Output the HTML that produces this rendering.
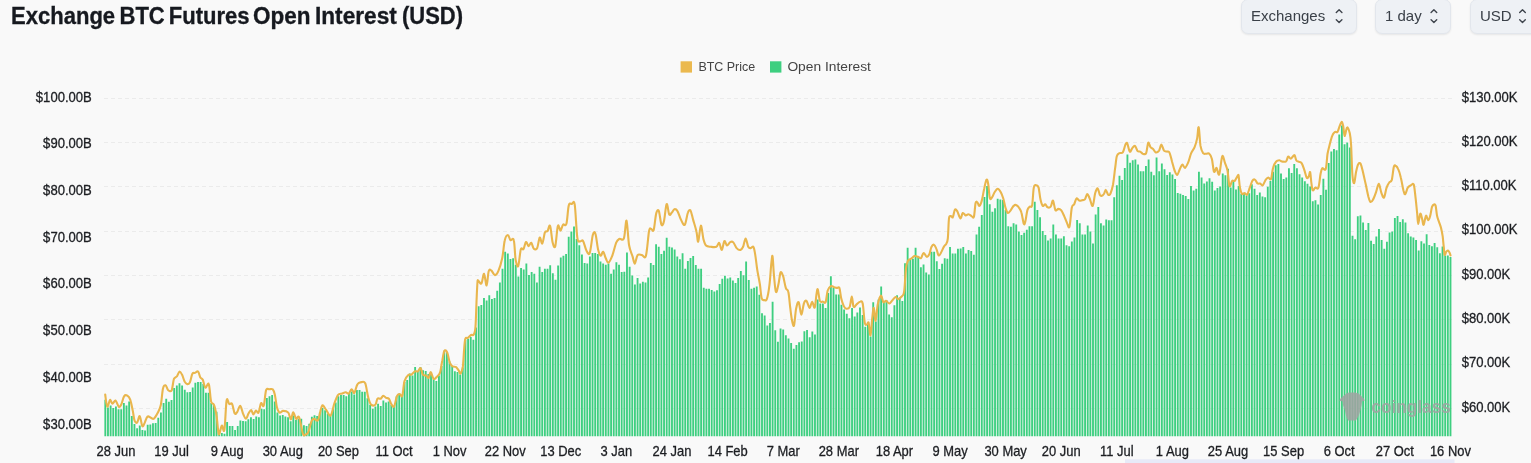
<!DOCTYPE html>
<html><head><meta charset="utf-8"><title>Exchange BTC Futures Open Interest (USD)</title>
<style>
html,body{margin:0;padding:0;background:#f9f9f9;overflow:hidden;}
body{width:1531px;height:463px;overflow:hidden;position:relative;font-family:"Liberation Sans",sans-serif;}
.btn{position:absolute;top:-1.5px;height:35px;background:#eef1f5;border:1px solid #e2e6ec;border-radius:7px;box-shadow:0 1px 2px rgba(0,0,0,.08);font-size:15px;color:#3a4048;line-height:31.6px;padding-left:9px;box-sizing:border-box;white-space:nowrap;}
body>*{will-change:transform}
svg text{font-family:"Liberation Sans",sans-serif;}
</style></head><body>
<div style="position:absolute;left:0;top:0;width:1531px;height:463px;overflow:hidden"><div class="btn" style="left:1241px;width:116px;">Exchanges</div>
<div class="btn" style="left:1375px;width:76px;">1 day</div>
<div class="btn" style="left:1470px;width:76px;">USD</div></div>
<svg width="1531" height="463" viewBox="0 0 1531 463" style="position:absolute;left:0;top:0">
<rect x="1125" y="459.3" width="329.5" height="4" fill="#e7eaf8"/>
<g stroke="#ebebeb" stroke-width="1" stroke-dasharray="4 3"><line x1="104" x2="1452" y1="98.5" y2="98.5"/><line x1="104" x2="1452" y1="142.5" y2="142.5"/><line x1="104" x2="1452" y1="186.5" y2="186.5"/><line x1="104" x2="1452" y1="231.5" y2="231.5"/><line x1="104" x2="1452" y1="275.5" y2="275.5"/><line x1="104" x2="1452" y1="319.5" y2="319.5"/><line x1="104" x2="1452" y1="364.5" y2="364.5"/><line x1="104" x2="1452" y1="408.5" y2="408.5"/></g>
<path d="M104.39 436.2V399.7h1.86V436.2zM107.04 436.2V407.5h1.86V436.2zM109.69 436.2V405.4h1.86V436.2zM112.34 436.2V408.0h1.86V436.2zM114.99 436.2V406.6h1.86V436.2zM117.63 436.2V409.2h1.86V436.2zM120.28 436.2V409.2h1.86V436.2zM122.93 436.2V403.1h1.86V436.2zM125.58 436.2V405.4h1.86V436.2zM128.23 436.2V401.4h1.86V436.2zM130.87 436.2V416.1h1.86V436.2zM133.52 436.2V423.9h1.86V436.2zM136.17 436.2V428.2h1.86V436.2zM138.82 436.2V425.6h1.86V436.2zM141.47 436.2V429.9h1.86V436.2zM144.11 436.2V430.4h1.86V436.2zM146.76 436.2V424.7h1.86V436.2zM149.41 436.2V424.4h1.86V436.2zM152.06 436.2V423.3h1.86V436.2zM154.70 436.2V423.0h1.86V436.2zM157.35 436.2V417.8h1.86V436.2zM160.00 436.2V412.6h1.86V436.2zM162.65 436.2V403.1h1.86V436.2zM165.30 436.2V398.8h1.86V436.2zM167.94 436.2V401.8h1.86V436.2zM170.59 436.2V400.0h1.86V436.2zM173.24 436.2V388.1h1.86V436.2zM175.89 436.2V385.5h1.86V436.2zM178.54 436.2V383.3h1.86V436.2zM181.18 436.2V385.5h1.86V436.2zM183.83 436.2V389.8h1.86V436.2zM186.48 436.2V392.3h1.86V436.2zM189.13 436.2V391.9h1.86V436.2zM191.78 436.2V387.6h1.86V436.2zM194.42 436.2V382.8h1.86V436.2zM197.07 436.2V381.9h1.86V436.2zM199.72 436.2V381.9h1.86V436.2zM202.37 436.2V384.1h1.86V436.2zM205.02 436.2V392.8h1.86V436.2zM207.66 436.2V392.8h1.86V436.2zM210.31 436.2V403.1h1.86V436.2zM212.96 436.2V404.9h1.86V436.2zM215.61 436.2V411.8h1.86V436.2zM218.26 436.2V435.1h1.86V436.2zM220.90 436.2V433.0h1.86V436.2zM223.55 436.2V433.7h1.86V436.2zM226.20 436.2V422.1h1.86V436.2zM228.85 436.2V425.9h1.86V436.2zM231.49 436.2V425.9h1.86V436.2zM234.14 436.2V429.9h1.86V436.2zM236.79 436.2V426.1h1.86V436.2zM239.44 436.2V420.4h1.86V436.2zM242.09 436.2V420.9h1.86V436.2zM244.73 436.2V421.3h1.86V436.2zM247.38 436.2V419.2h1.86V436.2zM250.03 436.2V417.3h1.86V436.2zM252.68 436.2V419.0h1.86V436.2zM255.33 436.2V416.6h1.86V436.2zM257.97 436.2V417.3h1.86V436.2zM260.62 436.2V408.8h1.86V436.2zM263.27 436.2V409.2h1.86V436.2zM265.92 436.2V398.0h1.86V436.2zM268.57 436.2V396.2h1.86V436.2zM271.21 436.2V395.0h1.86V436.2zM273.86 436.2V401.4h1.86V436.2zM276.51 436.2V412.6h1.86V436.2zM279.16 436.2V415.6h1.86V436.2zM281.81 436.2V414.9h1.86V436.2zM284.45 436.2V416.6h1.86V436.2zM287.10 436.2V417.3h1.86V436.2zM289.75 436.2V421.3h1.86V436.2zM292.40 436.2V415.6h1.86V436.2zM295.05 436.2V419.9h1.86V436.2zM297.69 436.2V418.8h1.86V436.2zM300.34 436.2V418.8h1.86V436.2zM302.99 436.2V425.3h1.86V436.2zM305.64 436.2V426.0h1.86V436.2zM308.29 436.2V423.8h1.86V436.2zM310.93 436.2V416.7h1.86V436.2zM313.58 436.2V415.2h1.86V436.2zM316.23 436.2V416.0h1.86V436.2zM318.88 436.2V412.4h1.86V436.2zM321.52 436.2V408.0h1.86V436.2zM324.17 436.2V410.2h1.86V436.2zM326.82 436.2V413.4h1.86V436.2zM329.47 436.2V415.6h1.86V436.2zM332.12 436.2V408.0h1.86V436.2zM334.76 436.2V402.6h1.86V436.2zM337.41 436.2V396.2h1.86V436.2zM340.06 436.2V395.1h1.86V436.2zM342.71 436.2V395.1h1.86V436.2zM345.36 436.2V396.2h1.86V436.2zM348.00 436.2V392.9h1.86V436.2zM350.65 436.2V391.4h1.86V436.2zM353.30 436.2V394.4h1.86V436.2zM355.95 436.2V390.1h1.86V436.2zM358.60 436.2V390.1h1.86V436.2zM361.24 436.2V391.8h1.86V436.2zM363.89 436.2V391.8h1.86V436.2zM366.54 436.2V398.3h1.86V436.2zM369.19 436.2V404.8h1.86V436.2zM371.84 436.2V408.7h1.86V436.2zM374.48 436.2V406.5h1.86V436.2zM377.13 436.2V403.7h1.86V436.2zM379.78 436.2V405.9h1.86V436.2zM382.43 436.2V400.5h1.86V436.2zM385.08 436.2V402.6h1.86V436.2zM387.72 436.2V401.6h1.86V436.2zM390.37 436.2V404.8h1.86V436.2zM393.02 436.2V405.9h1.86V436.2zM395.67 436.2V396.6h1.86V436.2zM398.31 436.2V393.6h1.86V436.2zM400.96 436.2V395.7h1.86V436.2zM403.61 436.2V382.1h1.86V436.2zM406.26 436.2V380.0h1.86V436.2zM408.91 436.2V373.5h1.86V436.2zM411.55 436.2V375.6h1.86V436.2zM414.20 436.2V367.0h1.86V436.2zM416.85 436.2V371.3h1.86V436.2zM419.50 436.2V367.0h1.86V436.2zM422.15 436.2V370.2h1.86V436.2zM424.79 436.2V370.9h1.86V436.2zM427.44 436.2V374.1h1.86V436.2zM430.09 436.2V372.0h1.86V436.2zM432.74 436.2V378.9h1.86V436.2zM435.39 436.2V381.0h1.86V436.2zM438.03 436.2V375.6h1.86V436.2zM440.68 436.2V365.9h1.86V436.2zM443.33 436.2V350.8h1.86V436.2zM445.98 436.2V351.9h1.86V436.2zM448.63 436.2V361.6h1.86V436.2zM451.27 436.2V365.9h1.86V436.2zM453.92 436.2V371.3h1.86V436.2zM456.57 436.2V372.0h1.86V436.2zM459.22 436.2V374.6h1.86V436.2zM461.87 436.2V367.6h1.86V436.2zM464.51 436.2V339.7h1.86V436.2zM467.16 436.2V338.8h1.86V436.2zM469.81 436.2V337.1h1.86V436.2zM472.46 436.2V339.7h1.86V436.2zM475.11 436.2V327.6h1.86V436.2zM477.75 436.2V306.2h1.86V436.2zM480.40 436.2V304.9h1.86V436.2zM483.05 436.2V297.9h1.86V436.2zM485.70 436.2V300.5h1.86V436.2zM488.34 436.2V295.3h1.86V436.2zM490.99 436.2V299.0h1.86V436.2zM493.64 436.2V297.9h1.86V436.2zM496.29 436.2V290.7h1.86V436.2zM498.94 436.2V282.4h1.86V436.2zM501.58 436.2V268.7h1.86V436.2zM504.23 436.2V251.8h1.86V436.2zM506.88 436.2V253.6h1.86V436.2zM509.53 436.2V259.1h1.86V436.2zM512.18 436.2V258.3h1.86V436.2zM514.82 436.2V264.8h1.86V436.2zM517.47 436.2V276.4h1.86V436.2zM520.12 436.2V267.9h1.86V436.2zM522.77 436.2V269.4h1.86V436.2zM525.42 436.2V263.5h1.86V436.2zM528.06 436.2V275.1h1.86V436.2zM530.71 436.2V272.0h1.86V436.2zM533.36 436.2V273.8h1.86V436.2zM536.01 436.2V282.4h1.86V436.2zM538.66 436.2V266.8h1.86V436.2zM541.30 436.2V272.0h1.86V436.2zM543.95 436.2V268.7h1.86V436.2zM546.60 436.2V268.7h1.86V436.2zM549.25 436.2V265.3h1.86V436.2zM551.90 436.2V273.3h1.86V436.2zM554.54 436.2V279.8h1.86V436.2zM557.19 436.2V265.5h1.86V436.2zM559.84 436.2V257.5h1.86V436.2zM562.49 436.2V255.7h1.86V436.2zM565.14 436.2V253.9h1.86V436.2zM567.78 436.2V236.8h1.86V436.2zM570.43 436.2V231.6h1.86V436.2zM573.08 436.2V226.4h1.86V436.2zM575.73 436.2V238.9h1.86V436.2zM578.37 436.2V245.3h1.86V436.2zM581.02 436.2V254.4h1.86V436.2zM583.67 436.2V263.0h1.86V436.2zM586.32 436.2V263.5h1.86V436.2zM588.97 436.2V256.5h1.86V436.2zM591.61 436.2V253.1h1.86V436.2zM594.26 436.2V253.1h1.86V436.2zM596.91 436.2V253.9h1.86V436.2zM599.56 436.2V261.4h1.86V436.2zM602.21 436.2V263.5h1.86V436.2zM604.85 436.2V264.8h1.86V436.2zM607.50 436.2V263.5h1.86V436.2zM610.15 436.2V273.8h1.86V436.2zM612.80 436.2V269.4h1.86V436.2zM615.45 436.2V262.2h1.86V436.2zM618.09 436.2V264.8h1.86V436.2zM620.74 436.2V272.0h1.86V436.2zM623.39 436.2V271.8h1.86V436.2zM626.04 436.2V252.6h1.86V436.2zM628.69 436.2V266.8h1.86V436.2zM631.33 436.2V275.4h1.86V436.2zM633.98 436.2V284.4h1.86V436.2zM636.63 436.2V277.9h1.86V436.2zM639.28 436.2V283.6h1.86V436.2zM641.93 436.2V281.8h1.86V436.2zM644.57 436.2V282.6h1.86V436.2zM647.22 436.2V277.4h1.86V436.2zM649.87 436.2V263.1h1.86V436.2zM652.52 436.2V264.9h1.86V436.2zM655.16 436.2V244.2h1.86V436.2zM657.81 436.2V246.8h1.86V436.2zM660.46 436.2V254.1h1.86V436.2zM663.11 436.2V250.7h1.86V436.2zM665.76 436.2V237.7h1.86V436.2zM668.40 436.2V246.8h1.86V436.2zM671.05 436.2V247.6h1.86V436.2zM673.70 436.2V249.4h1.86V436.2zM676.35 436.2V256.4h1.86V436.2zM679.00 436.2V259.2h1.86V436.2zM681.64 436.2V253.3h1.86V436.2zM684.29 436.2V268.8h1.86V436.2zM686.94 436.2V261.1h1.86V436.2zM689.59 436.2V258.0h1.86V436.2zM692.24 436.2V255.9h1.86V436.2zM694.88 436.2V264.9h1.86V436.2zM697.53 436.2V268.8h1.86V436.2zM700.18 436.2V268.8h1.86V436.2zM702.83 436.2V287.7h1.86V436.2zM705.48 436.2V288.8h1.86V436.2zM708.12 436.2V288.8h1.86V436.2zM710.77 436.2V290.1h1.86V436.2zM713.42 436.2V291.4h1.86V436.2zM716.07 436.2V290.3h1.86V436.2zM718.72 436.2V283.9h1.86V436.2zM721.36 436.2V278.7h1.86V436.2zM724.01 436.2V275.8h1.86V436.2zM726.66 436.2V278.4h1.86V436.2zM729.31 436.2V277.4h1.86V436.2zM731.96 436.2V280.5h1.86V436.2zM734.60 436.2V283.1h1.86V436.2zM737.25 436.2V277.9h1.86V436.2zM739.90 436.2V270.9h1.86V436.2zM742.55 436.2V275.3h1.86V436.2zM745.19 436.2V261.6h1.86V436.2zM747.84 436.2V280.0h1.86V436.2zM750.49 436.2V288.8h1.86V436.2zM753.14 436.2V287.7h1.86V436.2zM755.79 436.2V286.5h1.86V436.2zM758.43 436.2V294.7h1.86V436.2zM761.08 436.2V313.3h1.86V436.2zM763.73 436.2V315.6h1.86V436.2zM766.38 436.2V325.5h1.86V436.2zM769.03 436.2V322.9h1.86V436.2zM771.67 436.2V301.7h1.86V436.2zM774.32 436.2V330.2h1.86V436.2zM776.97 436.2V341.8h1.86V436.2zM779.62 436.2V328.6h1.86V436.2zM782.27 436.2V329.4h1.86V436.2zM784.91 436.2V335.3h1.86V436.2zM787.56 436.2V338.4h1.86V436.2zM790.21 436.2V343.1h1.86V436.2zM792.86 436.2V348.8h1.86V436.2zM795.51 436.2V344.9h1.86V436.2zM798.15 436.2V342.3h1.86V436.2zM800.80 436.2V341.6h1.86V436.2zM803.45 436.2V331.2h1.86V436.2zM806.10 436.2V329.9h1.86V436.2zM808.75 436.2V337.2h1.86V436.2zM811.39 436.2V331.5h1.86V436.2zM814.04 436.2V334.6h1.86V436.2zM816.69 436.2V299.6h1.86V436.2zM819.34 436.2V303.5h1.86V436.2zM821.98 436.2V303.5h1.86V436.2zM824.63 436.2V308.1h1.86V436.2zM827.28 436.2V293.1h1.86V436.2zM829.93 436.2V276.3h1.86V436.2zM832.58 436.2V287.9h1.86V436.2zM835.22 436.2V294.4h1.86V436.2zM837.87 436.2V294.4h1.86V436.2zM840.52 436.2V304.8h1.86V436.2zM843.17 436.2V309.4h1.86V436.2zM845.82 436.2V313.8h1.86V436.2zM848.46 436.2V318.2h1.86V436.2zM851.11 436.2V307.9h1.86V436.2zM853.76 436.2V316.4h1.86V436.2zM856.41 436.2V312.5h1.86V436.2zM859.06 436.2V307.4h1.86V436.2zM861.70 436.2V315.1h1.86V436.2zM864.35 436.2V326.8h1.86V436.2zM867.00 436.2V322.9h1.86V436.2zM869.65 436.2V336.4h1.86V436.2zM872.30 436.2V302.2h1.86V436.2zM874.94 436.2V321.6h1.86V436.2zM877.59 436.2V299.6h1.86V436.2zM880.24 436.2V286.6h1.86V436.2zM882.89 436.2V300.9h1.86V436.2zM885.54 436.2V300.1h1.86V436.2zM888.18 436.2V314.6h1.86V436.2zM890.83 436.2V317.2h1.86V436.2zM893.48 436.2V305.3h1.86V436.2zM896.13 436.2V295.2h1.86V436.2zM898.78 436.2V297.5h1.86V436.2zM901.42 436.2V300.9h1.86V436.2zM904.07 436.2V263.3h1.86V436.2zM906.72 436.2V247.8h1.86V436.2zM909.37 436.2V259.4h1.86V436.2zM912.01 436.2V258.7h1.86V436.2zM914.66 436.2V247.8h1.86V436.2zM917.31 436.2V256.1h1.86V436.2zM919.96 436.2V267.2h1.86V436.2zM922.61 436.2V264.6h1.86V436.2zM925.25 436.2V272.4h1.86V436.2zM927.90 436.2V274.5h1.86V436.2zM930.55 436.2V251.7h1.86V436.2zM933.20 436.2V251.7h1.86V436.2zM935.85 436.2V261.2h1.86V436.2zM938.49 436.2V269.0h1.86V436.2zM941.14 436.2V263.7h1.86V436.2zM943.79 436.2V258.3h1.86V436.2zM946.44 436.2V258.8h1.86V436.2zM949.09 436.2V246.9h1.86V436.2zM951.73 436.2V253.4h1.86V436.2zM954.38 436.2V253.4h1.86V436.2zM957.03 436.2V248.8h1.86V436.2zM959.68 436.2V248.6h1.86V436.2zM962.33 436.2V246.9h1.86V436.2zM964.97 436.2V253.4h1.86V436.2zM967.62 436.2V250.0h1.86V436.2zM970.27 436.2V251.0h1.86V436.2zM972.92 436.2V254.8h1.86V436.2zM975.57 436.2V234.4h1.86V436.2zM978.21 436.2V226.8h1.86V436.2zM980.86 436.2V214.9h1.86V436.2zM983.51 436.2V197.1h1.86V436.2zM986.16 436.2V185.9h1.86V436.2zM988.80 436.2V204.2h1.86V436.2zM991.45 436.2V211.8h1.86V436.2zM994.10 436.2V208.2h1.86V436.2zM996.75 436.2V198.7h1.86V436.2zM999.40 436.2V199.4h1.86V436.2zM1002.04 436.2V199.9h1.86V436.2zM1004.69 436.2V210.1h1.86V436.2zM1007.34 436.2V226.3h1.86V436.2zM1009.99 436.2V226.8h1.86V436.2zM1012.64 436.2V223.2h1.86V436.2zM1015.28 436.2V224.4h1.86V436.2zM1017.93 436.2V231.5h1.86V436.2zM1020.58 436.2V235.1h1.86V436.2zM1023.23 436.2V232.7h1.86V436.2zM1025.88 436.2V229.8h1.86V436.2zM1028.52 436.2V226.3h1.86V436.2zM1031.17 436.2V226.3h1.86V436.2zM1033.82 436.2V201.8h1.86V436.2zM1036.47 436.2V210.1h1.86V436.2zM1039.12 436.2V217.3h1.86V436.2zM1041.76 436.2V231.0h1.86V436.2zM1044.41 436.2V235.1h1.86V436.2zM1047.06 436.2V240.5h1.86V436.2zM1049.71 436.2V238.6h1.86V436.2zM1052.36 436.2V224.4h1.86V436.2zM1055.00 436.2V234.6h1.86V436.2zM1057.65 436.2V238.6h1.86V436.2zM1060.30 436.2V238.6h1.86V436.2zM1062.95 436.2V236.3h1.86V436.2zM1065.60 436.2V245.3h1.86V436.2zM1068.24 436.2V246.2h1.86V436.2zM1070.89 436.2V241.5h1.86V436.2zM1073.54 436.2V237.4h1.86V436.2zM1076.19 436.2V220.1h1.86V436.2zM1078.83 436.2V223.2h1.86V436.2zM1081.48 436.2V234.4h1.86V436.2zM1084.13 436.2V234.4h1.86V436.2zM1086.78 436.2V225.6h1.86V436.2zM1089.43 436.2V231.5h1.86V436.2zM1092.07 436.2V243.4h1.86V436.2zM1094.72 436.2V214.4h1.86V436.2zM1097.37 436.2V207.0h1.86V436.2zM1100.02 436.2V223.2h1.86V436.2zM1102.67 436.2V225.6h1.86V436.2zM1105.31 436.2V219.6h1.86V436.2zM1107.96 436.2V220.3h1.86V436.2zM1110.61 436.2V220.3h1.86V436.2zM1113.26 436.2V197.2h1.86V436.2zM1115.91 436.2V185.3h1.86V436.2zM1118.55 436.2V175.7h1.86V436.2zM1121.20 436.2V180.1h1.86V436.2zM1123.85 436.2V167.9h1.86V436.2zM1126.50 436.2V154.5h1.86V436.2zM1129.15 436.2V162.7h1.86V436.2zM1131.79 436.2V160.2h1.86V436.2zM1134.44 436.2V159.4h1.86V436.2zM1137.09 436.2V164.6h1.86V436.2zM1139.74 436.2V171.3h1.86V436.2zM1142.39 436.2V171.3h1.86V436.2zM1145.03 436.2V166.1h1.86V436.2zM1147.68 436.2V159.4h1.86V436.2zM1150.33 436.2V171.8h1.86V436.2zM1152.98 436.2V175.2h1.86V436.2zM1155.63 436.2V157.6h1.86V436.2zM1158.27 436.2V171.3h1.86V436.2zM1160.92 436.2V163.5h1.86V436.2zM1163.57 436.2V169.2h1.86V436.2zM1166.22 436.2V174.9h1.86V436.2zM1168.86 436.2V172.3h1.86V436.2zM1171.51 436.2V174.4h1.86V436.2zM1174.16 436.2V179.1h1.86V436.2zM1176.81 436.2V193.1h1.86V436.2zM1179.46 436.2V193.8h1.86V436.2zM1182.10 436.2V195.1h1.86V436.2zM1184.75 436.2V195.9h1.86V436.2zM1187.40 436.2V199.0h1.86V436.2zM1190.05 436.2V186.1h1.86V436.2zM1192.70 436.2V190.5h1.86V436.2zM1195.34 436.2V188.7h1.86V436.2zM1197.99 436.2V171.8h1.86V436.2zM1200.64 436.2V177.5h1.86V436.2zM1203.29 436.2V183.5h1.86V436.2zM1205.94 436.2V181.4h1.86V436.2zM1208.58 436.2V178.3h1.86V436.2zM1211.23 436.2V181.7h1.86V436.2zM1213.88 436.2V190.5h1.86V436.2zM1216.53 436.2V187.9h1.86V436.2zM1219.18 436.2V186.6h1.86V436.2zM1221.82 436.2V173.6h1.86V436.2zM1224.47 436.2V175.2h1.86V436.2zM1227.12 436.2V168.7h1.86V436.2zM1229.77 436.2V187.4h1.86V436.2zM1232.42 436.2V180.1h1.86V436.2zM1235.06 436.2V189.4h1.86V436.2zM1237.71 436.2V186.1h1.86V436.2zM1240.36 436.2V193.8h1.86V436.2zM1243.01 436.2V193.1h1.86V436.2zM1245.65 436.2V195.6h1.86V436.2zM1248.30 436.2V193.3h1.86V436.2zM1250.95 436.2V184.2h1.86V436.2zM1253.60 436.2V188.7h1.86V436.2zM1256.25 436.2V195.1h1.86V436.2zM1258.89 436.2V192.5h1.86V436.2zM1261.54 436.2V196.4h1.86V436.2zM1264.19 436.2V197.2h1.86V436.2zM1266.84 436.2V186.8h1.86V436.2zM1269.49 436.2V180.9h1.86V436.2zM1272.13 436.2V171.8h1.86V436.2zM1274.78 436.2V165.3h1.86V436.2zM1277.43 436.2V164.0h1.86V436.2zM1280.08 436.2V173.6h1.86V436.2zM1282.73 436.2V179.1h1.86V436.2zM1285.37 436.2V177.4h1.86V436.2zM1288.02 436.2V168.3h1.86V436.2zM1290.67 436.2V173.0h1.86V436.2zM1293.32 436.2V163.9h1.86V436.2zM1295.97 436.2V168.3h1.86V436.2zM1298.61 436.2V174.2h1.86V436.2zM1301.26 436.2V177.4h1.86V436.2zM1303.91 436.2V181.2h1.86V436.2zM1306.56 436.2V183.8h1.86V436.2zM1309.21 436.2V186.4h1.86V436.2zM1311.85 436.2V201.2h1.86V436.2zM1314.50 436.2V200.2h1.86V436.2zM1317.15 436.2V204.6h1.86V436.2zM1319.80 436.2V195.0h1.86V436.2zM1322.45 436.2V178.7h1.86V436.2zM1325.09 436.2V189.8h1.86V436.2zM1327.74 436.2V163.1h1.86V436.2zM1330.39 436.2V151.5h1.86V436.2zM1333.04 436.2V148.9h1.86V436.2zM1335.68 436.2V150.2h1.86V436.2zM1338.33 436.2V134.6h1.86V436.2zM1340.98 436.2V125.5h1.86V436.2zM1343.63 436.2V144.2h1.86V436.2zM1346.28 436.2V142.4h1.86V436.2zM1348.92 436.2V147.6h1.86V436.2zM1351.57 436.2V235.8h1.86V436.2zM1354.22 436.2V239.2h1.86V436.2zM1356.87 436.2V216.3h1.86V436.2zM1359.52 436.2V215.5h1.86V436.2zM1362.16 436.2V222.4h1.86V436.2zM1364.81 436.2V230.0h1.86V436.2zM1367.46 436.2V223.0h1.86V436.2zM1370.11 436.2V240.8h1.86V436.2zM1372.76 436.2V244.0h1.86V436.2zM1375.40 436.2V236.4h1.86V436.2zM1378.05 436.2V228.9h1.86V436.2zM1380.70 436.2V240.1h1.86V436.2zM1383.35 436.2V248.7h1.86V436.2zM1386.00 436.2V241.8h1.86V436.2zM1388.64 436.2V232.5h1.86V436.2zM1391.29 436.2V231.5h1.86V436.2zM1393.94 436.2V218.1h1.86V436.2zM1396.59 436.2V215.9h1.86V436.2zM1399.24 436.2V222.0h1.86V436.2zM1401.88 436.2V219.2h1.86V436.2zM1404.53 436.2V222.4h1.86V436.2zM1407.18 436.2V233.2h1.86V436.2zM1409.83 436.2V236.4h1.86V436.2zM1412.47 436.2V237.5h1.86V436.2zM1415.12 436.2V240.1h1.86V436.2zM1417.77 436.2V250.5h1.86V436.2zM1420.42 436.2V241.2h1.86V436.2zM1423.07 436.2V243.6h1.86V436.2zM1425.71 436.2V234.3h1.86V436.2zM1428.36 436.2V245.1h1.86V436.2zM1431.01 436.2V246.2h1.86V436.2zM1433.66 436.2V242.9h1.86V436.2zM1436.31 436.2V247.2h1.86V436.2zM1438.95 436.2V253.3h1.86V436.2zM1441.60 436.2V246.6h1.86V436.2zM1444.25 436.2V255.4h1.86V436.2zM1446.90 436.2V255.4h1.86V436.2zM1449.55 436.2V257.0h1.86V436.2z" fill="#3ecf80"/>
<g fill="#a0a4a2" opacity="0.87">
<path d="M1339.5 401 L1340 399 L1343 396.2 L1346.4 393.4 L1349 392.5 L1355.5 392.5 L1358.5 393.4 L1361.5 396.2 L1364.2 399 L1364.5 401 L1362 401.2 L1361.6 405 L1360.2 410.9 L1358.9 415.2 L1357.5 418 L1355.9 420.4 L1348.1 420.4 L1346.8 418 L1346 415.2 L1345.1 410.9 L1343 405 L1342.5 401.2 Z"/>
<text x="1371.3" y="412.6" font-size="19" font-weight="bold" textLength="79.6" lengthAdjust="spacingAndGlyphs">coinglass</text>
</g>
<path d="M105.2 394.5C105.5 396.5 106.4 405.7 107.3 406.6C108.1 407.5 109.2 400.5 110.0 400.0C110.9 399.5 111.5 403.6 112.4 403.7C113.4 403.7 114.5 400.1 115.5 400.5C116.6 401.0 117.7 405.9 118.7 406.6C119.6 407.3 120.1 406.6 121.1 404.9C122.0 403.1 123.1 397.8 124.2 396.2C125.2 394.7 126.3 395.1 127.3 395.7C128.3 396.3 129.3 397.1 130.2 399.7C131.1 402.2 132.1 407.5 132.8 410.9C133.5 414.4 133.8 418.4 134.5 420.4C135.3 422.4 136.3 423.4 137.1 422.6C138.0 421.9 138.9 415.5 139.7 416.1C140.6 416.7 141.5 425.0 142.3 426.1C143.1 427.3 143.7 424.6 144.6 423.0C145.4 421.4 146.4 417.5 147.5 416.6C148.6 415.7 149.9 417.5 150.9 417.8C152.0 418.2 152.7 419.5 153.9 418.7C155.0 417.8 156.7 414.9 157.9 412.6C159.0 410.3 159.9 408.9 160.8 404.9C161.7 400.8 162.2 391.7 163.0 388.5C163.8 385.2 164.8 385.1 165.6 385.3C166.5 385.6 167.2 389.4 168.2 390.2C169.2 391.0 170.7 392.1 171.7 390.2C172.6 388.3 173.1 381.3 173.9 379.0C174.8 376.7 175.9 377.6 176.9 376.4C177.8 375.2 178.6 372.0 179.4 371.7C180.3 371.4 181.2 373.0 182.0 374.6C182.9 376.3 183.8 380.0 184.6 381.5C185.5 383.1 186.4 384.0 187.2 384.1C188.1 384.3 188.9 384.1 189.8 382.4C190.7 380.7 191.5 375.4 192.4 373.8C193.3 372.2 194.0 373.3 195.0 372.9C195.9 372.5 197.2 370.8 198.1 371.5C199.0 372.2 199.4 375.8 200.2 377.2C200.9 378.6 201.9 378.1 202.8 379.8C203.6 381.5 204.3 386.9 205.4 387.6C206.4 388.3 207.9 381.8 208.8 384.1C209.8 386.4 210.2 398.0 211.1 401.4C211.9 404.9 213.1 402.4 214.0 404.9C214.9 407.3 215.8 411.2 216.6 416.1C217.4 421.0 218.0 432.6 218.8 434.2C219.7 435.8 220.8 426.3 221.8 425.6C222.7 424.9 223.5 434.1 224.4 429.9C225.2 425.7 225.8 404.9 226.6 400.5C227.4 396.2 228.3 403.4 229.2 404.0C230.1 404.6 231.2 402.4 232.1 404.0C233.0 405.6 233.9 412.2 234.7 413.5C235.6 414.8 236.4 413.1 237.3 411.8C238.2 410.5 239.3 405.4 240.2 405.7C241.2 406.0 242.1 411.3 243.0 413.5C244.0 415.7 245.0 418.7 245.9 418.7C246.9 418.7 247.7 414.9 248.5 413.5C249.4 412.1 250.3 409.9 251.1 410.0C251.9 410.2 252.6 414.3 253.4 414.4C254.2 414.4 255.1 410.8 256.0 410.6C256.8 410.3 257.7 413.9 258.5 412.6C259.4 411.4 260.1 404.3 261.0 403.1C261.8 402.0 262.9 407.9 263.7 405.7C264.6 403.6 265.2 392.9 266.1 390.2C267.1 387.4 268.2 389.5 269.3 389.3C270.4 389.2 271.8 388.5 272.7 389.3C273.6 390.2 274.1 391.5 274.8 394.5C275.5 397.5 276.2 404.4 277.0 407.5C277.8 410.5 278.6 412.1 279.6 412.6C280.6 413.2 281.6 410.9 283.1 410.9C284.5 410.9 287.0 411.2 288.3 412.6C289.6 414.1 290.0 419.6 290.8 419.5C291.7 419.5 292.4 412.5 293.2 412.4C294.1 412.2 295.1 418.0 296.0 418.8C297.0 419.7 297.9 414.8 299.1 417.3C300.2 419.8 301.9 431.1 303.0 434.0C304.0 436.8 304.7 435.0 305.6 434.6C306.5 434.2 307.4 434.1 308.4 431.8C309.4 429.5 310.6 423.2 311.6 421.0C312.6 418.8 313.1 419.0 314.2 418.8C315.3 418.7 316.8 422.1 318.1 419.9C319.4 417.8 320.7 407.7 322.0 405.9C323.2 404.1 324.2 407.5 325.6 409.1C327.1 410.7 329.2 416.5 330.6 415.6C332.0 414.7 333.1 407.1 334.3 403.7C335.5 400.3 336.7 396.8 337.9 395.1C339.2 393.4 340.5 394.0 341.8 393.6C343.1 393.1 344.6 392.3 345.7 392.3C346.9 392.3 347.8 394.1 348.7 393.6C349.7 393.1 350.6 389.4 351.6 389.2C352.5 389.1 353.4 393.7 354.4 392.9C355.3 392.1 356.2 386.1 357.4 384.3C358.5 382.5 360.0 382.3 361.3 382.1C362.6 381.9 364.0 380.7 365.2 383.2C366.3 385.7 367.2 393.7 368.2 397.2C369.2 400.8 369.8 403.1 371.0 404.4C372.2 405.6 374.2 405.7 375.3 404.8C376.4 403.9 376.6 399.8 377.5 398.7C378.4 397.7 379.7 399.3 380.7 398.7C381.7 398.2 382.4 395.9 383.3 395.7C384.2 395.6 385.2 397.4 386.1 397.9C387.0 398.4 388.0 397.7 388.9 398.7C389.8 399.8 390.6 403.1 391.5 404.4C392.4 405.7 393.2 407.9 394.1 406.5C395.0 405.2 396.0 398.2 396.9 396.2C397.8 394.1 398.8 394.1 399.7 394.0C400.6 393.9 401.5 397.9 402.3 395.7C403.1 393.6 403.5 384.5 404.5 381.0C405.5 377.6 407.2 376.1 408.4 375.0C409.5 373.9 410.3 375.2 411.4 374.6C412.5 373.9 413.8 371.9 414.8 371.3C415.9 370.8 416.9 371.9 417.9 371.3C418.8 370.8 419.8 367.5 420.7 368.1C421.5 368.6 421.9 373.3 422.8 374.6C423.7 375.8 425.1 375.1 426.1 375.6C427.0 376.2 427.9 378.4 428.7 377.8C429.5 377.2 430.0 371.8 430.8 372.0C431.6 372.1 432.6 378.1 433.6 378.9C434.6 379.7 435.8 377.8 436.9 376.7C437.9 375.6 439.2 375.1 440.1 372.4C441.0 369.7 441.5 364.1 442.3 360.5C443.0 356.9 443.6 352.1 444.4 350.8C445.3 349.5 446.3 350.5 447.2 352.5C448.1 354.5 449.0 360.4 449.8 362.7C450.7 365.0 451.4 365.6 452.4 366.3C453.4 367.1 454.9 366.3 455.9 367.0C456.9 367.6 457.7 369.2 458.5 370.2C459.3 371.3 459.9 374.0 460.6 373.5C461.3 372.9 462.3 369.2 462.8 367.0C463.2 364.8 463.0 364.7 463.4 360.1C463.7 355.6 464.4 343.4 465.1 339.7C465.8 336.0 466.7 338.7 467.7 338.0C468.7 337.2 470.1 335.6 471.1 335.0C472.2 334.4 473.0 335.9 473.7 334.5C474.5 333.1 475.0 332.9 475.5 326.7C476.0 320.5 476.3 304.8 476.7 297.3C477.0 289.8 477.3 284.5 477.5 281.7C477.8 279.0 477.7 280.5 478.3 280.8C479.0 281.1 480.5 284.6 481.5 283.4C482.4 282.3 483.2 273.5 484.0 273.8C484.9 274.2 485.9 285.9 486.6 285.5C487.4 285.1 487.9 273.7 488.7 271.2C489.5 268.7 490.3 269.8 491.3 270.5C492.3 271.1 493.8 275.0 494.9 275.1C496.1 275.3 497.1 274.1 498.3 271.2C499.5 268.4 501.1 263.5 502.2 258.3C503.3 253.1 503.8 244.0 504.8 240.2C505.7 236.3 506.9 235.0 507.9 235.0C508.8 235.0 509.5 239.3 510.5 240.2C511.5 241.0 513.0 236.9 513.8 240.2C514.7 243.4 514.9 255.3 515.6 259.6C516.4 263.9 517.4 267.8 518.2 266.1C519.1 264.3 520.0 252.0 520.8 249.2C521.7 246.4 522.6 250.4 523.4 249.2C524.3 248.0 525.1 242.5 526.0 242.0C526.9 241.5 527.7 246.0 528.6 246.1C529.5 246.2 530.3 242.3 531.2 242.7C532.1 243.2 532.8 247.8 533.8 248.7C534.8 249.6 536.2 249.8 537.2 247.9C538.1 246.1 538.9 238.3 539.7 237.6C540.6 236.8 541.5 244.4 542.3 243.5C543.2 242.7 544.1 234.5 544.9 232.4C545.8 230.3 546.6 232.2 547.5 231.1C548.4 230.0 549.2 224.0 550.1 225.9C551.0 227.8 551.8 239.4 552.7 242.7C553.6 246.1 554.4 248.9 555.3 246.1C556.1 243.3 557.0 228.5 557.9 225.9C558.7 223.3 559.6 230.8 560.5 230.6C561.3 230.4 562.1 225.7 563.1 224.6C564.1 223.5 565.5 227.0 566.4 223.8C567.4 220.6 567.8 208.8 568.8 205.4C569.7 202.1 570.9 204.1 571.9 203.9C572.9 203.7 573.8 198.8 574.7 204.4C575.6 210.0 576.4 231.4 577.3 237.6C578.2 243.7 578.9 240.9 579.9 241.5C580.8 242.0 581.9 239.4 583.0 240.9C584.1 242.4 585.3 248.5 586.4 250.5C587.5 252.5 588.7 255.7 589.7 253.1C590.8 250.5 591.9 238.2 592.8 235.0C593.8 231.7 594.6 231.3 595.4 233.7C596.3 236.1 597.2 245.6 598.0 249.2C598.9 252.9 599.8 255.3 600.6 255.7C601.5 256.1 602.3 251.4 603.2 251.8C604.1 252.2 604.9 256.5 605.8 258.3C606.7 260.1 607.3 263.1 608.4 262.7C609.5 262.3 611.0 259.0 612.3 255.7C613.6 252.4 615.0 245.6 616.2 242.7C617.3 239.9 618.0 239.6 619.3 238.9C620.6 238.1 622.7 241.4 623.9 238.3C625.1 235.3 625.7 219.6 626.5 220.7C627.4 221.9 628.1 239.5 629.1 245.3C630.1 251.2 631.5 252.8 632.4 255.9C633.4 258.9 633.9 263.8 634.8 263.7C635.6 263.5 636.4 256.5 637.6 255.1C638.8 253.7 640.6 255.0 642.0 255.1C643.4 255.2 644.7 259.9 645.9 255.9C647.1 251.9 648.2 235.8 649.0 231.3C649.9 226.7 650.3 228.9 651.1 228.7C651.9 228.5 652.8 232.6 653.7 230.0C654.5 227.4 655.4 216.3 656.3 213.1C657.1 210.0 658.0 209.1 658.9 211.1C659.7 213.0 660.6 223.2 661.5 224.8C662.3 226.4 663.2 224.4 664.0 220.9C664.9 217.5 665.8 205.1 666.6 204.1C667.5 203.0 668.4 213.0 669.2 214.4C670.1 215.9 670.9 213.5 671.8 212.6C672.7 211.8 673.5 209.5 674.4 209.2C675.4 209.0 676.4 209.3 677.5 211.1C678.6 212.8 679.7 217.3 680.9 219.6C682.1 221.9 683.6 226.0 684.8 224.8C685.9 223.6 686.9 215.0 687.9 212.6C688.8 210.2 689.6 209.4 690.5 210.5C691.3 211.7 692.1 216.2 693.1 219.6C694.1 223.1 695.6 227.6 696.4 231.3C697.3 234.9 697.5 242.6 698.2 241.6C699.0 240.7 700.0 226.0 700.8 225.6C701.7 225.1 702.6 235.7 703.4 239.0C704.3 242.4 704.8 244.2 706.0 245.5C707.2 246.8 708.9 246.6 710.7 246.8C712.4 247.0 714.9 247.5 716.4 246.8C717.8 246.2 718.3 242.4 719.2 242.9C720.1 243.4 720.9 250.2 721.8 249.9C722.7 249.6 723.5 241.8 724.4 241.1C725.3 240.4 726.0 245.3 727.0 245.5C727.9 245.7 729.1 242.7 730.1 242.2C731.1 241.6 732.1 241.2 733.2 242.2C734.3 243.1 735.4 246.8 736.6 248.1C737.8 249.4 739.4 250.1 740.5 249.9C741.5 249.7 742.2 248.7 743.1 246.8C743.9 244.9 744.8 238.5 745.6 238.5C746.5 238.5 747.4 245.2 748.2 246.8C749.1 248.4 750.0 248.1 750.8 248.1C751.7 248.1 752.7 245.7 753.4 246.8C754.2 247.9 754.6 250.7 755.2 254.6C755.9 258.5 756.5 265.2 757.3 270.1C758.1 275.1 759.2 279.7 759.9 284.4C760.6 289.1 760.9 295.7 761.7 298.3C762.4 300.9 763.4 300.0 764.2 300.1C765.1 300.2 766.0 301.5 766.8 299.1C767.7 296.6 768.7 291.1 769.4 285.3C770.2 279.6 770.7 269.5 771.2 264.6C771.8 259.7 772.1 254.6 772.5 256.1C773.0 257.6 773.3 267.7 773.8 273.7C774.4 279.6 775.1 290.1 775.9 291.8C776.7 293.5 777.7 287.3 778.5 284.0C779.3 280.8 779.8 273.7 780.6 272.4C781.3 271.1 782.3 273.7 783.2 276.3C784.0 278.9 784.9 285.3 785.8 287.9C786.6 290.5 787.6 288.6 788.3 291.8C789.1 295.1 789.6 302.6 790.2 307.4C790.8 312.1 791.3 317.3 792.0 320.3C792.6 323.3 793.4 327.4 794.0 325.5C794.7 323.5 795.3 312.5 796.1 308.7C796.9 304.8 797.8 301.2 798.7 302.2C799.6 303.2 800.4 314.4 801.3 314.6C802.2 314.8 803.0 305.8 803.9 303.5C804.7 301.2 805.5 300.1 806.5 300.9C807.4 301.6 808.6 307.7 809.6 307.9C810.5 308.0 811.3 301.7 812.2 301.7C813.0 301.6 813.9 309.4 814.8 307.4C815.6 305.3 816.5 290.3 817.4 289.2C818.2 288.1 819.0 298.8 819.9 300.9C820.9 303.0 822.1 301.4 823.1 301.7C824.0 301.9 824.9 304.0 825.6 302.2C826.4 300.3 826.9 293.2 827.7 290.5C828.6 287.8 829.7 286.7 830.8 286.1C831.9 285.6 833.2 286.8 834.2 287.2C835.2 287.5 835.9 287.8 836.8 287.9C837.7 288.1 838.6 286.2 839.4 287.9C840.1 289.7 840.5 295.3 841.2 298.3C841.9 301.3 842.9 304.3 843.8 306.1C844.6 307.8 845.4 308.5 846.4 308.7C847.4 308.8 848.8 308.9 849.7 306.8C850.6 304.8 851.2 296.5 851.8 296.5C852.5 296.5 852.8 305.5 853.6 306.8C854.4 308.1 855.7 305.1 856.7 304.2C857.8 303.4 859.1 301.8 860.1 301.7C861.1 301.5 861.9 299.9 862.7 303.5C863.5 307.0 864.0 319.4 864.8 322.9C865.5 326.4 866.5 324.2 867.1 324.2C867.7 324.2 868.1 321.0 868.7 322.9C869.2 324.8 869.9 336.2 870.5 335.3C871.1 334.5 871.7 322.3 872.3 317.7C872.8 313.1 873.3 307.4 873.8 307.9C874.4 308.4 875.0 321.3 875.6 320.8C876.3 320.3 876.9 309.0 877.7 304.8C878.6 300.6 879.9 296.1 880.8 295.7C881.8 295.3 882.6 301.3 883.4 302.2C884.3 303.0 885.0 300.7 886.0 300.9C887.0 301.1 888.3 303.6 889.4 303.5C890.5 303.3 891.5 301.2 892.5 300.1C893.5 299.0 894.6 297.2 895.6 297.0C896.5 296.8 897.2 299.2 898.2 299.1C899.2 299.0 900.6 297.7 901.6 296.5C902.5 295.3 903.4 296.5 904.1 291.8C904.9 287.2 905.3 273.7 906.0 268.5C906.6 263.3 907.2 262.4 908.0 260.7C908.9 259.1 910.1 259.4 911.1 258.7C912.2 257.9 913.4 256.4 914.5 256.1C915.6 255.8 916.8 256.5 917.9 256.8C919.0 257.2 920.0 258.8 921.0 258.1C921.9 257.5 922.6 253.2 923.6 253.0C924.5 252.7 925.7 256.6 926.7 256.8C927.6 257.1 928.5 255.8 929.3 254.2C930.1 252.7 930.6 248.9 931.3 247.3C932.1 245.7 933.1 244.4 933.9 244.7C934.8 245.0 935.7 247.3 936.5 249.1C937.4 250.9 937.9 255.9 939.1 255.5C940.3 255.2 942.6 248.9 943.8 246.9C944.9 245.0 945.5 245.2 946.2 243.9C946.8 242.5 947.3 242.9 947.8 238.6C948.3 234.4 948.5 222.2 949.0 218.4C949.5 214.7 950.3 216.3 950.9 216.1C951.5 215.9 952.1 218.3 952.8 217.3C953.5 216.2 954.2 210.6 954.9 209.7C955.7 208.7 956.4 209.9 957.3 211.3C958.2 212.8 959.5 218.2 960.4 218.4C961.3 218.7 961.9 213.5 962.8 213.0C963.7 212.5 964.7 215.2 965.6 215.4C966.6 215.6 967.5 214.0 968.5 214.2C969.5 214.3 970.7 215.6 971.6 216.1C972.5 216.5 973.3 219.0 973.9 216.8C974.6 214.6 975.0 205.4 975.6 203.0C976.2 200.6 976.9 202.1 977.5 202.5C978.1 203.0 978.7 206.2 979.4 205.9C980.1 205.5 981.0 203.5 981.8 200.6C982.6 197.8 983.4 192.2 984.2 188.8C984.9 185.3 985.9 180.5 986.5 179.7C987.2 178.9 987.6 180.9 988.2 184.0C988.7 187.1 989.2 196.1 989.9 198.3C990.5 200.4 991.4 198.1 992.2 197.1C993.0 196.1 993.7 193.7 994.6 192.3C995.5 190.9 996.7 188.8 997.7 188.8C998.7 188.8 999.9 190.7 1000.8 192.3C1001.7 193.9 1002.4 195.7 1003.2 198.3C1004.0 200.8 1004.7 205.3 1005.5 207.8C1006.3 210.2 1007.0 212.6 1007.9 213.0C1008.8 213.4 1009.8 211.3 1010.8 210.1C1011.7 208.9 1012.7 206.7 1013.6 205.9C1014.5 205.0 1015.1 204.6 1016.0 204.9C1016.9 205.2 1018.2 206.5 1019.1 207.8C1020.0 209.0 1020.7 209.8 1021.4 212.5C1022.2 215.2 1023.2 222.5 1023.8 223.9C1024.5 225.3 1024.9 223.1 1025.5 220.8C1026.1 218.5 1026.7 212.5 1027.4 210.1C1028.1 207.8 1029.0 207.4 1029.8 206.6C1030.6 205.8 1031.5 208.5 1032.1 205.4C1032.8 202.2 1033.1 190.9 1033.8 187.6C1034.5 184.2 1035.4 185.2 1036.2 185.2C1037.0 185.2 1037.8 185.2 1038.6 187.6C1039.3 189.9 1039.7 196.4 1040.5 199.4C1041.2 202.5 1042.0 205.1 1042.8 205.9C1043.6 206.6 1044.4 204.0 1045.2 204.2C1046.0 204.4 1046.7 206.9 1047.6 207.3C1048.5 207.7 1049.8 207.7 1050.7 206.6C1051.6 205.5 1052.2 200.0 1053.0 200.6C1053.8 201.2 1054.5 208.7 1055.4 210.1C1056.3 211.5 1057.3 208.9 1058.3 208.9C1059.2 208.9 1060.1 208.9 1061.1 210.1C1062.1 211.3 1063.3 214.1 1064.2 216.1C1065.1 218.0 1065.7 220.2 1066.6 222.0C1067.5 223.8 1068.6 229.1 1069.4 226.8C1070.3 224.4 1071.0 211.5 1071.8 207.8C1072.6 204.0 1073.4 205.8 1074.2 204.2C1075.0 202.6 1075.7 198.8 1076.6 198.3C1077.4 197.7 1078.3 200.3 1079.2 200.6C1080.1 200.9 1081.1 200.4 1082.0 200.2C1083.0 200.0 1084.0 200.5 1084.9 199.4C1085.7 198.4 1086.5 194.2 1087.2 194.0C1088.0 193.8 1088.7 196.3 1089.6 198.3C1090.5 200.2 1091.8 206.6 1092.7 205.9C1093.6 205.1 1094.3 196.4 1095.1 193.5C1095.9 190.6 1096.7 188.1 1097.5 188.3C1098.3 188.5 1099.2 193.4 1099.8 194.7C1100.5 196.0 1100.8 196.0 1101.5 195.9C1102.2 195.8 1103.2 195.0 1103.9 194.0C1104.6 193.0 1105.1 189.8 1105.8 189.9C1106.5 190.1 1107.4 194.1 1108.1 194.7C1108.9 195.3 1109.7 195.2 1110.5 193.5C1111.3 191.8 1112.2 188.8 1113.0 184.8C1113.7 180.7 1114.4 174.0 1115.0 169.2C1115.7 164.5 1116.1 158.9 1116.8 156.3C1117.6 153.6 1118.4 153.8 1119.4 153.2C1120.4 152.5 1121.8 153.8 1122.8 152.4C1123.8 151.0 1124.7 146.1 1125.4 144.6C1126.1 143.1 1126.5 142.2 1127.2 143.3C1127.9 144.5 1128.9 150.8 1129.8 151.6C1130.7 152.4 1131.5 148.9 1132.4 148.0C1133.2 147.0 1134.1 145.4 1135.0 145.9C1135.8 146.4 1136.7 150.1 1137.6 151.1C1138.4 152.0 1139.3 151.2 1140.2 151.6C1141.0 152.0 1141.8 153.4 1142.7 153.7C1143.7 153.9 1145.2 155.0 1146.1 153.2C1147.0 151.3 1147.5 143.8 1148.2 142.8C1148.9 141.8 1149.7 146.2 1150.5 147.2C1151.3 148.2 1152.2 148.2 1153.1 149.0C1154.0 149.9 1154.7 152.1 1155.7 152.4C1156.7 152.6 1158.1 151.9 1159.1 150.6C1160.0 149.3 1160.6 144.6 1161.4 144.6C1162.2 144.6 1163.1 149.4 1164.0 150.6C1164.9 151.7 1165.9 151.3 1166.8 151.6C1167.7 151.9 1168.6 150.7 1169.4 152.4C1170.3 154.0 1171.2 158.4 1172.0 161.5C1172.9 164.5 1173.7 168.3 1174.6 170.5C1175.5 172.8 1176.3 175.1 1177.2 174.9C1178.1 174.7 1178.9 170.9 1179.8 169.2C1180.7 167.5 1181.5 164.8 1182.4 164.6C1183.2 164.3 1184.0 168.2 1185.0 167.9C1185.9 167.6 1187.0 165.2 1188.1 162.7C1189.1 160.3 1190.1 155.8 1191.2 153.2C1192.3 150.6 1193.6 149.7 1194.6 147.2C1195.6 144.7 1196.5 141.5 1197.2 138.1C1197.8 134.8 1198.1 126.0 1198.7 127.3C1199.3 128.5 1199.8 141.6 1200.5 145.9C1201.3 150.2 1202.2 151.9 1203.1 153.2C1204.1 154.5 1205.2 153.6 1206.2 153.7C1207.3 153.8 1208.4 152.8 1209.3 153.7C1210.3 154.5 1211.1 155.8 1211.9 158.9C1212.7 161.9 1213.2 170.3 1214.0 171.8C1214.8 173.3 1215.7 167.5 1216.6 167.9C1217.4 168.4 1218.2 176.3 1219.2 174.4C1220.1 172.5 1221.3 158.2 1222.3 156.3C1223.2 154.3 1224.0 160.4 1224.9 162.7C1225.7 165.1 1226.7 166.6 1227.5 170.5C1228.2 174.4 1228.8 184.3 1229.5 186.1C1230.3 187.8 1231.3 181.7 1232.1 180.9C1233.0 180.0 1233.9 181.6 1234.7 180.9C1235.6 180.1 1236.7 177.3 1237.3 176.5C1238.0 175.6 1238.2 173.9 1238.6 175.7C1239.0 177.5 1239.3 184.3 1239.9 187.4C1240.5 190.4 1241.2 192.9 1242.0 193.8C1242.7 194.8 1243.7 192.9 1244.6 193.1C1245.4 193.2 1246.3 195.5 1247.2 194.6C1248.0 193.7 1248.9 190.2 1249.7 187.9C1250.6 185.6 1251.5 182.3 1252.3 180.9C1253.2 179.5 1254.1 179.2 1254.9 179.6C1255.8 180.0 1256.6 182.8 1257.5 183.5C1258.4 184.1 1259.2 183.2 1260.1 183.5C1261.0 183.8 1261.7 185.9 1262.7 185.3C1263.6 184.6 1264.9 180.9 1265.8 179.6C1266.8 178.3 1267.5 177.6 1268.4 177.5C1269.3 177.4 1270.2 180.7 1271.0 179.1C1271.8 177.5 1272.2 170.9 1273.1 167.9C1273.9 165.0 1275.1 162.7 1276.2 161.5C1277.2 160.2 1278.3 160.2 1279.3 160.2C1280.2 160.2 1280.7 161.3 1281.9 161.5C1283.0 161.6 1285.0 162.1 1286.1 161.3C1287.1 160.5 1287.4 157.1 1288.1 156.6C1288.9 156.2 1289.9 158.7 1290.7 158.7C1291.5 158.7 1292.2 157.2 1292.8 156.6C1293.4 156.1 1294.0 154.7 1294.6 155.3C1295.2 156.0 1295.7 159.4 1296.4 160.5C1297.2 161.6 1298.2 161.4 1299.0 161.8C1299.9 162.2 1300.7 161.8 1301.6 163.1C1302.5 164.4 1303.3 167.1 1304.2 169.6C1305.1 172.0 1306.0 176.8 1306.8 177.9C1307.6 179.0 1308.3 177.0 1308.9 176.1C1309.4 175.1 1309.7 170.9 1310.2 172.2C1310.6 173.5 1311.0 180.8 1311.5 183.8C1311.9 186.9 1312.1 189.7 1312.7 190.3C1313.4 191.0 1314.4 188.2 1315.3 187.7C1316.3 187.3 1317.6 190.0 1318.4 187.7C1319.3 185.5 1319.9 177.5 1320.5 174.2C1321.2 171.0 1321.5 169.2 1322.3 168.3C1323.2 167.4 1324.8 171.4 1325.7 169.1C1326.6 166.7 1326.9 158.1 1327.5 154.0C1328.2 150.0 1328.8 148.0 1329.6 145.0C1330.4 142.0 1331.3 138.1 1332.2 135.9C1333.0 133.7 1333.9 132.7 1334.8 132.0C1335.6 131.4 1336.6 132.9 1337.4 132.0C1338.1 131.2 1338.7 128.6 1339.4 126.8C1340.2 125.1 1341.1 121.7 1341.8 121.7C1342.4 121.7 1342.8 124.5 1343.3 126.8C1343.8 129.2 1344.1 135.5 1344.6 135.9C1345.1 136.3 1345.9 130.8 1346.4 129.4C1346.9 128.0 1347.2 127.0 1347.7 127.6C1348.3 128.3 1349.2 130.4 1349.8 133.3C1350.4 136.2 1350.7 138.1 1351.1 145.0C1351.5 151.9 1351.9 168.4 1352.4 174.8C1352.9 181.1 1353.6 183.5 1354.2 183.1C1354.8 182.6 1355.4 175.3 1356.0 172.2C1356.7 169.1 1357.3 165.8 1358.1 164.4C1358.9 163.0 1359.8 162.4 1360.7 163.9C1361.5 165.4 1362.4 169.9 1363.3 173.5C1364.1 177.0 1365.0 181.2 1365.9 185.1C1366.7 189.0 1367.7 194.0 1368.4 196.8C1369.2 199.6 1369.7 201.5 1370.5 202.0C1371.3 202.4 1372.2 201.1 1373.1 199.4C1374.1 197.7 1375.3 194.2 1376.2 191.6C1377.2 189.0 1377.9 183.6 1378.8 183.8C1379.7 184.1 1380.5 190.6 1381.4 192.9C1382.3 195.2 1383.1 198.4 1384.0 197.6C1384.9 196.7 1385.7 190.2 1386.6 187.7C1387.4 185.2 1388.3 183.8 1389.2 182.5C1390.0 181.2 1391.0 182.5 1391.8 179.9C1392.5 177.4 1393.2 169.4 1393.8 167.0C1394.5 164.6 1394.9 165.4 1395.6 165.7C1396.4 166.0 1397.4 167.1 1398.2 169.1C1399.1 171.0 1400.0 173.8 1400.8 177.4C1401.7 180.9 1402.7 187.5 1403.4 190.3C1404.2 193.1 1404.5 194.6 1405.2 194.2C1406.0 193.8 1406.8 189.2 1407.8 187.7C1408.8 186.2 1410.2 185.6 1411.2 185.1C1412.2 184.6 1413.0 182.5 1413.8 184.6C1414.5 186.8 1415.0 193.2 1415.6 198.1C1416.2 202.9 1416.7 209.3 1417.2 213.6C1417.6 217.9 1417.7 224.0 1418.2 224.0C1418.7 224.0 1419.6 214.5 1420.3 213.6C1420.9 212.8 1421.5 217.0 1422.1 218.8C1422.6 220.7 1423.0 225.3 1423.6 224.8C1424.3 224.2 1425.2 216.5 1426.0 215.7C1426.7 214.9 1427.3 220.0 1428.0 220.1C1428.7 220.2 1429.5 218.4 1430.1 216.2C1430.8 214.1 1431.3 209.1 1431.9 207.2C1432.6 205.2 1433.4 204.8 1434.0 204.6C1434.6 204.3 1435.0 203.7 1435.6 205.6C1436.1 207.4 1436.5 213.3 1437.1 215.9C1437.6 218.5 1438.1 219.3 1438.8 221.3C1439.4 223.3 1440.3 225.3 1441.0 227.8C1441.6 230.3 1442.2 233.2 1442.7 236.4C1443.1 239.7 1443.4 244.2 1443.8 247.2C1444.1 250.3 1444.2 254.1 1444.6 254.8C1445.1 255.5 1445.8 252.3 1446.3 251.6C1446.9 250.8 1447.3 250.3 1447.9 250.5C1448.4 250.7 1449.2 251.8 1449.6 252.6C1450.0 253.5 1450.3 255.0 1450.5 255.4" fill="none" stroke="#e9b64d" stroke-width="2.1" stroke-linejoin="round" stroke-linecap="round"/>
<g font-size="14" fill="#1c1e22" stroke="#1c1e22" stroke-width="0.3"><text transform="translate(91.8 101.7) scale(0.9345 1)" text-anchor="end">$100.00B</text><text transform="translate(91.8 147.7) scale(0.9345 1)" text-anchor="end">$90.00B</text><text transform="translate(91.8 194.7) scale(0.9345 1)" text-anchor="end">$80.00B</text><text transform="translate(91.8 241.7) scale(0.9345 1)" text-anchor="end">$70.00B</text><text transform="translate(91.8 287.7) scale(0.9345 1)" text-anchor="end">$60.00B</text><text transform="translate(91.8 334.7) scale(0.9345 1)" text-anchor="end">$50.00B</text><text transform="translate(91.8 381.7) scale(0.9345 1)" text-anchor="end">$40.00B</text><text transform="translate(91.8 428.7) scale(0.9345 1)" text-anchor="end">$30.00B</text><text transform="translate(1461.7 101.7) scale(0.9326 1)">$130.00K</text><text transform="translate(1461.7 145.7) scale(0.9326 1)">$120.00K</text><text transform="translate(1461.7 189.7) scale(0.9326 1)">$110.00K</text><text transform="translate(1461.7 233.7) scale(0.9326 1)">$100.00K</text><text transform="translate(1461.7 278.7) scale(0.9326 1)">$90.00K</text><text transform="translate(1461.7 322.7) scale(0.9326 1)">$80.00K</text><text transform="translate(1461.7 366.7) scale(0.9326 1)">$70.00K</text><text transform="translate(1461.7 411.7) scale(0.9326 1)">$60.00K</text><text transform="translate(116.0 455.9) scale(0.925 1)" text-anchor="middle">28 Jun</text><text transform="translate(171.6 455.9) scale(0.925 1)" text-anchor="middle">19 Jul</text><text transform="translate(227.2 455.9) scale(0.925 1)" text-anchor="middle">9 Aug</text><text transform="translate(282.8 455.9) scale(0.925 1)" text-anchor="middle">30 Aug</text><text transform="translate(338.4 455.9) scale(0.925 1)" text-anchor="middle">20 Sep</text><text transform="translate(394.0 455.9) scale(0.925 1)" text-anchor="middle">11 Oct</text><text transform="translate(449.6 455.9) scale(0.925 1)" text-anchor="middle">1 Nov</text><text transform="translate(505.2 455.9) scale(0.925 1)" text-anchor="middle">22 Nov</text><text transform="translate(560.8 455.9) scale(0.925 1)" text-anchor="middle">13 Dec</text><text transform="translate(616.4 455.9) scale(0.925 1)" text-anchor="middle">3 Jan</text><text transform="translate(672.0 455.9) scale(0.925 1)" text-anchor="middle">24 Jan</text><text transform="translate(727.6 455.9) scale(0.925 1)" text-anchor="middle">14 Feb</text><text transform="translate(783.2 455.9) scale(0.925 1)" text-anchor="middle">7 Mar</text><text transform="translate(838.8 455.9) scale(0.925 1)" text-anchor="middle">28 Mar</text><text transform="translate(894.4 455.9) scale(0.925 1)" text-anchor="middle">18 Apr</text><text transform="translate(950.0 455.9) scale(0.925 1)" text-anchor="middle">9 May</text><text transform="translate(1005.6 455.9) scale(0.925 1)" text-anchor="middle">30 May</text><text transform="translate(1061.2 455.9) scale(0.925 1)" text-anchor="middle">20 Jun</text><text transform="translate(1116.8 455.9) scale(0.925 1)" text-anchor="middle">11 Jul</text><text transform="translate(1172.4 455.9) scale(0.925 1)" text-anchor="middle">1 Aug</text><text transform="translate(1228.0 455.9) scale(0.925 1)" text-anchor="middle">25 Aug</text><text transform="translate(1283.6 455.9) scale(0.925 1)" text-anchor="middle">15 Sep</text><text transform="translate(1339.2 455.9) scale(0.925 1)" text-anchor="middle">6 Oct</text><text transform="translate(1394.8 455.9) scale(0.925 1)" text-anchor="middle">27 Oct</text><text transform="translate(1450.4 455.9) scale(0.925 1)" text-anchor="middle">16 Nov</text></g>
<g font-size="22" font-weight="bold" fill="#16191f" stroke="#16191f" stroke-width="0.3"><text transform="translate(11.0 23.8) scale(1 1.09)" textLength="104.1" lengthAdjust="spacingAndGlyphs">Exchange</text><text transform="translate(119.5 23.8) scale(1 1.09)" textLength="45.3" lengthAdjust="spacingAndGlyphs">BTC</text><text transform="translate(168.8 23.8) scale(1 1.09)" textLength="80.7" lengthAdjust="spacingAndGlyphs">Futures</text><text transform="translate(253.1 23.8) scale(1 1.09)" textLength="57.5" lengthAdjust="spacingAndGlyphs">Open</text><text transform="translate(315.0 23.8) scale(1 1.09)" textLength="81.8" lengthAdjust="spacingAndGlyphs">Interest</text><text transform="translate(402.0 23.8) scale(1 1.09)" textLength="61.0" lengthAdjust="spacingAndGlyphs">(USD)</text></g>
<path d="M1336.3 12.5L1339.1 9.8L1341.9 12.5M1336.3 19.8L1339.1 22.5L1341.9 19.8M1431.1 12.5L1433.9 9.8L1436.7 12.5M1431.1 19.8L1433.9 22.5L1436.7 19.8M1519.7 12.5L1522.5 9.8L1525.3 12.5M1519.7 19.8L1522.5 22.5L1525.3 19.8" fill="none" stroke="#3f454d" stroke-width="1.4" stroke-linecap="round" stroke-linejoin="round"/>
<rect x="680.6" y="61.3" width="11.4" height="11.3" fill="#ebb94f"/>
<text x="698.4" y="71.2" font-size="13.6" fill="#444" textLength="56.8" lengthAdjust="spacingAndGlyphs">BTC Price</text>
<rect x="770" y="61.3" width="11.4" height="11.3" fill="#3ecf80"/>
<text x="787.4" y="71.2" font-size="13.6" fill="#444" textLength="83.5" lengthAdjust="spacingAndGlyphs">Open Interest</text>
</svg>
</body></html>
